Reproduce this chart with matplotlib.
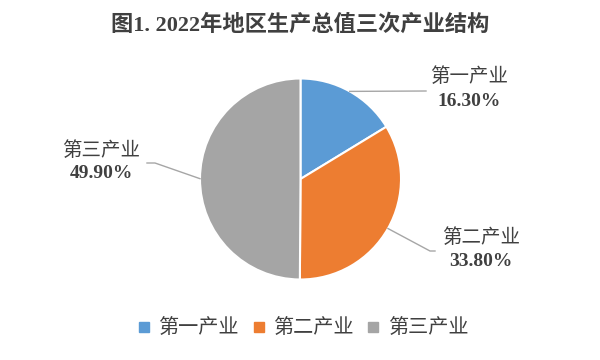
import numpy as np
import matplotlib
matplotlib.use('Agg')
import matplotlib.pyplot as plt
from matplotlib.lines import Line2D

plt.rcParams['font.family'] = ['Liberation Serif', 'Noto Sans CJK SC']

title = '图1. 2022年地区生产总值三次产业结构'
categories = ['第一产业', '第二产业', '第三产业']
shares = [16.30, 33.80, 49.90]
colors = ['#5b9bd5', '#ed7d31', '#a5a5a5']
txt = '#404040'

W, H = 600, 360
fig = plt.figure(figsize=(6, 3.6), dpi=100)
ax = fig.add_axes([0, 0, 1, 1])

cx, cy, r = 300.5, H - 179, 100.5
wedges, _ = ax.pie(shares, colors=colors, startangle=90, counterclock=False,
                   center=(cx, cy), radius=r, frame=True,
                   wedgeprops=dict(edgecolor='white', linewidth=1.5))
ax.set_xlim(0, W)
ax.set_ylim(0, H)
ax.set_axis_off()

# label positions (pixels from top) and leader-line elbows
lab_pos = [(469, 77, 101), (481, 238, 262), (101, 151, 174)]
elbows = [[(426, 91)], [(430, 251), (435, 251)], [(155, 163), (147, 163)]]

for w, v, name, (lx, ly1, ly2), elb in zip(wedges, shares, categories, lab_pos, elbows):
    ang = np.deg2rad((w.theta1 + w.theta2) / 2)
    x0 = cx + r * np.cos(ang)
    y0 = cy + r * np.sin(ang)
    xs = [x0] + [p[0] for p in elb]
    ys = [y0] + [H - p[1] for p in elb]
    ax.plot(xs, ys, color='#a6a6a6', lw=1)
    ax.text(lx, H - ly1, name, ha='center', va='center', fontsize=14, color=txt)
    ax.text(lx, H - ly2, f'{v:.2f}%', ha='center', va='center', fontsize=14,
            fontweight='bold', color=txt)

fig.text(0.5, 1 - 25 / H, title, ha='center', va='center', fontsize=16,
         fontweight='bold', color=txt)

handles = [Line2D([], [], marker='s', ls='none', color=c, markersize=7) for c in colors]
fig.legend(handles, categories, loc='center', bbox_to_anchor=(0.5, 1 - 329 / H),
           ncol=3, frameon=False, fontsize=14.5, handletextpad=0.1, columnspacing=0.4,
           handlelength=1.2, labelcolor=txt)

fig.savefig('out.png', dpi=100)
